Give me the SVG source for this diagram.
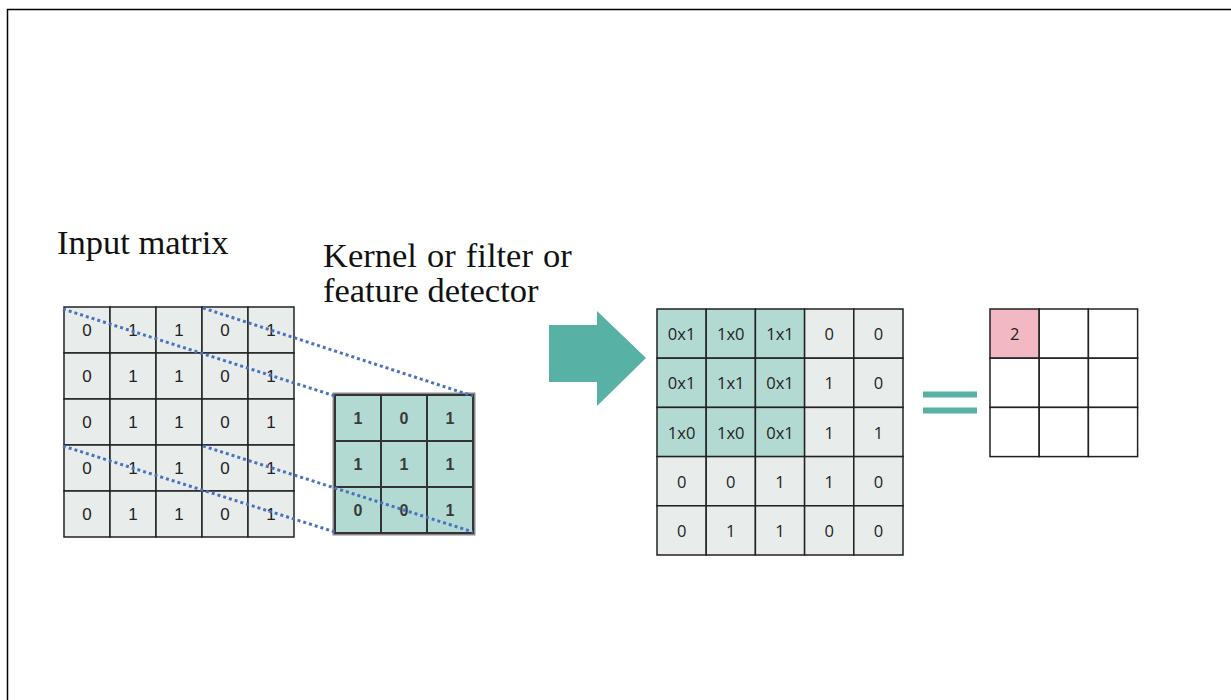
<svg xmlns="http://www.w3.org/2000/svg" width="1231" height="700" viewBox="0 0 1231 700">
  <style>
    .frame { stroke: #000; stroke-width: 1.5; fill: none; }
    .title { font-family: "Liberation Serif", "Times New Roman", serif; font-size: 34.5px; fill: #111; }
    .cell-in { fill: #e8edec; stroke: #222; stroke-width: 1.5; }
    .cell-k { fill: #b3dad2; stroke: #333; stroke-width: 2; }
    .cell-hi { fill: #b3dad2; stroke: #222; stroke-width: 1.5; }
    .cell-out { fill: #fff; stroke: #222; stroke-width: 1.5; }
    .cell-pink { fill: #f2b8c4; stroke: #222; stroke-width: 1.5; }
    .num { font-family: "Liberation Sans", Arial, sans-serif; font-size: 17px; fill: #222; text-anchor: middle; dominant-baseline: central; }
    .knum { font-family: "Liberation Sans", Arial, sans-serif; font-size: 16px; font-weight: bold; fill: #3a3a3a; text-anchor: middle; dominant-baseline: central; }
    .mnum { font-family: "Open Sans", "Liberation Sans", sans-serif; font-size: 16.5px; fill: #222; text-anchor: middle; dominant-baseline: central; }
    .dots { stroke: #4a72bf; stroke-width: 3; stroke-dasharray: 3 3; fill: none; }
    .teal { fill: #57b1a4; }
  </style>

  <rect width="1231" height="700" fill="#fff"/>
  <!-- page frame -->
  <path class="frame" d="M7.5,700 V9.5 H1231"/>

  <!-- labels -->
  <text class="title" x="57" y="254">Input matrix</text>
  <text class="title" x="323" y="267" word-spacing="1.5">Kernel or filter or</text>
  <text class="title" x="323" y="302">feature detector</text>

  <!-- input matrix 5x5 -->
  <g id="input-matrix">
    <g>
      <rect class="cell-in" x="64" y="307" width="46" height="46"/><rect class="cell-in" x="110" y="307" width="46" height="46"/><rect class="cell-in" x="156" y="307" width="46" height="46"/><rect class="cell-in" x="202" y="307" width="46" height="46"/><rect class="cell-in" x="248" y="307" width="46" height="46"/>
      <rect class="cell-in" x="64" y="353" width="46" height="46"/><rect class="cell-in" x="110" y="353" width="46" height="46"/><rect class="cell-in" x="156" y="353" width="46" height="46"/><rect class="cell-in" x="202" y="353" width="46" height="46"/><rect class="cell-in" x="248" y="353" width="46" height="46"/>
      <rect class="cell-in" x="64" y="399" width="46" height="46"/><rect class="cell-in" x="110" y="399" width="46" height="46"/><rect class="cell-in" x="156" y="399" width="46" height="46"/><rect class="cell-in" x="202" y="399" width="46" height="46"/><rect class="cell-in" x="248" y="399" width="46" height="46"/>
      <rect class="cell-in" x="64" y="445" width="46" height="46"/><rect class="cell-in" x="110" y="445" width="46" height="46"/><rect class="cell-in" x="156" y="445" width="46" height="46"/><rect class="cell-in" x="202" y="445" width="46" height="46"/><rect class="cell-in" x="248" y="445" width="46" height="46"/>
      <rect class="cell-in" x="64" y="491" width="46" height="46"/><rect class="cell-in" x="110" y="491" width="46" height="46"/><rect class="cell-in" x="156" y="491" width="46" height="46"/><rect class="cell-in" x="202" y="491" width="46" height="46"/><rect class="cell-in" x="248" y="491" width="46" height="46"/>
    </g>
    <g>
      <text class="num" x="87" y="330">0</text><text class="num" x="133" y="330">1</text><text class="num" x="179" y="330">1</text><text class="num" x="225" y="330">0</text><text class="num" x="271" y="330">1</text>
      <text class="num" x="87" y="376">0</text><text class="num" x="133" y="376">1</text><text class="num" x="179" y="376">1</text><text class="num" x="225" y="376">0</text><text class="num" x="271" y="376">1</text>
      <text class="num" x="87" y="422">0</text><text class="num" x="133" y="422">1</text><text class="num" x="179" y="422">1</text><text class="num" x="225" y="422">0</text><text class="num" x="271" y="422">1</text>
      <text class="num" x="87" y="468">0</text><text class="num" x="133" y="468">1</text><text class="num" x="179" y="468">1</text><text class="num" x="225" y="468">0</text><text class="num" x="271" y="468">1</text>
      <text class="num" x="87" y="514">0</text><text class="num" x="133" y="514">1</text><text class="num" x="179" y="514">1</text><text class="num" x="225" y="514">0</text><text class="num" x="271" y="514">1</text>
    </g>
  </g>

  <!-- kernel 3x3 -->
  <g id="kernel">
    <rect x="334" y="394" width="140" height="140" fill="none" stroke="#8a8a8a" stroke-width="3"/>
    <rect class="cell-k" x="335" y="395" width="46" height="46"/><rect class="cell-k" x="381" y="395" width="46" height="46"/><rect class="cell-k" x="427" y="395" width="46" height="46"/>
    <rect class="cell-k" x="335" y="441" width="46" height="46"/><rect class="cell-k" x="381" y="441" width="46" height="46"/><rect class="cell-k" x="427" y="441" width="46" height="46"/>
    <rect class="cell-k" x="335" y="487" width="46" height="46"/><rect class="cell-k" x="381" y="487" width="46" height="46"/><rect class="cell-k" x="427" y="487" width="46" height="46"/>
    <text class="knum" x="358" y="418">1</text><text class="knum" x="404" y="418">0</text><text class="knum" x="450" y="418">1</text>
    <text class="knum" x="358" y="464">1</text><text class="knum" x="404" y="464">1</text><text class="knum" x="450" y="464">1</text>
    <text class="knum" x="358" y="510">0</text><text class="knum" x="404" y="510">0</text><text class="knum" x="450" y="510">1</text>
  </g>

  <!-- projection lines from the 3x3 window to the kernel -->
  <g id="connectors">
    <line class="dots" x1="63" y1="309" x2="335" y2="396"/>
    <line class="dots" x1="203" y1="308" x2="473" y2="396"/>
    <line class="dots" x1="63" y1="446" x2="335" y2="532"/>
    <line class="dots" x1="203" y1="446" x2="473" y2="532"/>
  </g>

  <!-- block arrow -->
  <g id="arrow">
    <polygon class="teal" points="549,325 597,325 597,311 646,358 597,406 597,382 549,382"/>
  </g>

  <!-- element-wise product matrix -->
  <g id="product-matrix">
    <g>
      <rect class="cell-hi" x="657" y="309" width="49.2" height="49.2"/><rect class="cell-hi" x="706.2" y="309" width="49.2" height="49.2"/><rect class="cell-hi" x="755.4" y="309" width="49.2" height="49.2"/><rect class="cell-in" x="804.6" y="309" width="49.2" height="49.2"/><rect class="cell-in" x="853.8" y="309" width="49.2" height="49.2"/>
      <rect class="cell-hi" x="657" y="358.2" width="49.2" height="49.2"/><rect class="cell-hi" x="706.2" y="358.2" width="49.2" height="49.2"/><rect class="cell-hi" x="755.4" y="358.2" width="49.2" height="49.2"/><rect class="cell-in" x="804.6" y="358.2" width="49.2" height="49.2"/><rect class="cell-in" x="853.8" y="358.2" width="49.2" height="49.2"/>
      <rect class="cell-hi" x="657" y="407.4" width="49.2" height="49.2"/><rect class="cell-hi" x="706.2" y="407.4" width="49.2" height="49.2"/><rect class="cell-hi" x="755.4" y="407.4" width="49.2" height="49.2"/><rect class="cell-in" x="804.6" y="407.4" width="49.2" height="49.2"/><rect class="cell-in" x="853.8" y="407.4" width="49.2" height="49.2"/>
      <rect class="cell-in" x="657" y="456.6" width="49.2" height="49.2"/><rect class="cell-in" x="706.2" y="456.6" width="49.2" height="49.2"/><rect class="cell-in" x="755.4" y="456.6" width="49.2" height="49.2"/><rect class="cell-in" x="804.6" y="456.6" width="49.2" height="49.2"/><rect class="cell-in" x="853.8" y="456.6" width="49.2" height="49.2"/>
      <rect class="cell-in" x="657" y="505.8" width="49.2" height="49.2"/><rect class="cell-in" x="706.2" y="505.8" width="49.2" height="49.2"/><rect class="cell-in" x="755.4" y="505.8" width="49.2" height="49.2"/><rect class="cell-in" x="804.6" y="505.8" width="49.2" height="49.2"/><rect class="cell-in" x="853.8" y="505.8" width="49.2" height="49.2"/>
    </g>
    <g>
      <text class="mnum" x="681.6" y="333.6">0x1</text><text class="mnum" x="730.8" y="333.6">1x0</text><text class="mnum" x="780" y="333.6">1x1</text><text class="mnum" x="829.2" y="333.6">0</text><text class="mnum" x="878.4" y="333.6">0</text>
      <text class="mnum" x="681.6" y="382.8">0x1</text><text class="mnum" x="730.8" y="382.8">1x1</text><text class="mnum" x="780" y="382.8">0x1</text><text class="mnum" x="829.2" y="382.8">1</text><text class="mnum" x="878.4" y="382.8">0</text>
      <text class="mnum" x="681.6" y="432">1x0</text><text class="mnum" x="730.8" y="432">1x0</text><text class="mnum" x="780" y="432">0x1</text><text class="mnum" x="829.2" y="432">1</text><text class="mnum" x="878.4" y="432">1</text>
      <text class="mnum" x="681.6" y="481.2">0</text><text class="mnum" x="730.8" y="481.2">0</text><text class="mnum" x="780" y="481.2">1</text><text class="mnum" x="829.2" y="481.2">1</text><text class="mnum" x="878.4" y="481.2">0</text>
      <text class="mnum" x="681.6" y="530.4">0</text><text class="mnum" x="730.8" y="530.4">1</text><text class="mnum" x="780" y="530.4">1</text><text class="mnum" x="829.2" y="530.4">0</text><text class="mnum" x="878.4" y="530.4">0</text>
    </g>
  </g>

  <!-- equals sign -->
  <g id="equals">
    <rect class="teal" x="923" y="391.5" width="54" height="6"/>
    <rect class="teal" x="923" y="407.5" width="54" height="6"/>
  </g>

  <!-- output feature map -->
  <g id="output-map">
    <rect class="cell-pink" x="990" y="309" width="49.2" height="49.2"/><rect class="cell-out" x="1039.2" y="309" width="49.2" height="49.2"/><rect class="cell-out" x="1088.4" y="309" width="49.2" height="49.2"/>
    <rect class="cell-out" x="990" y="358.2" width="49.2" height="49.2"/><rect class="cell-out" x="1039.2" y="358.2" width="49.2" height="49.2"/><rect class="cell-out" x="1088.4" y="358.2" width="49.2" height="49.2"/>
    <rect class="cell-out" x="990" y="407.4" width="49.2" height="49.2"/><rect class="cell-out" x="1039.2" y="407.4" width="49.2" height="49.2"/><rect class="cell-out" x="1088.4" y="407.4" width="49.2" height="49.2"/>
    <text class="mnum" x="1014.6" y="333.6">2</text>
  </g>
</svg>
